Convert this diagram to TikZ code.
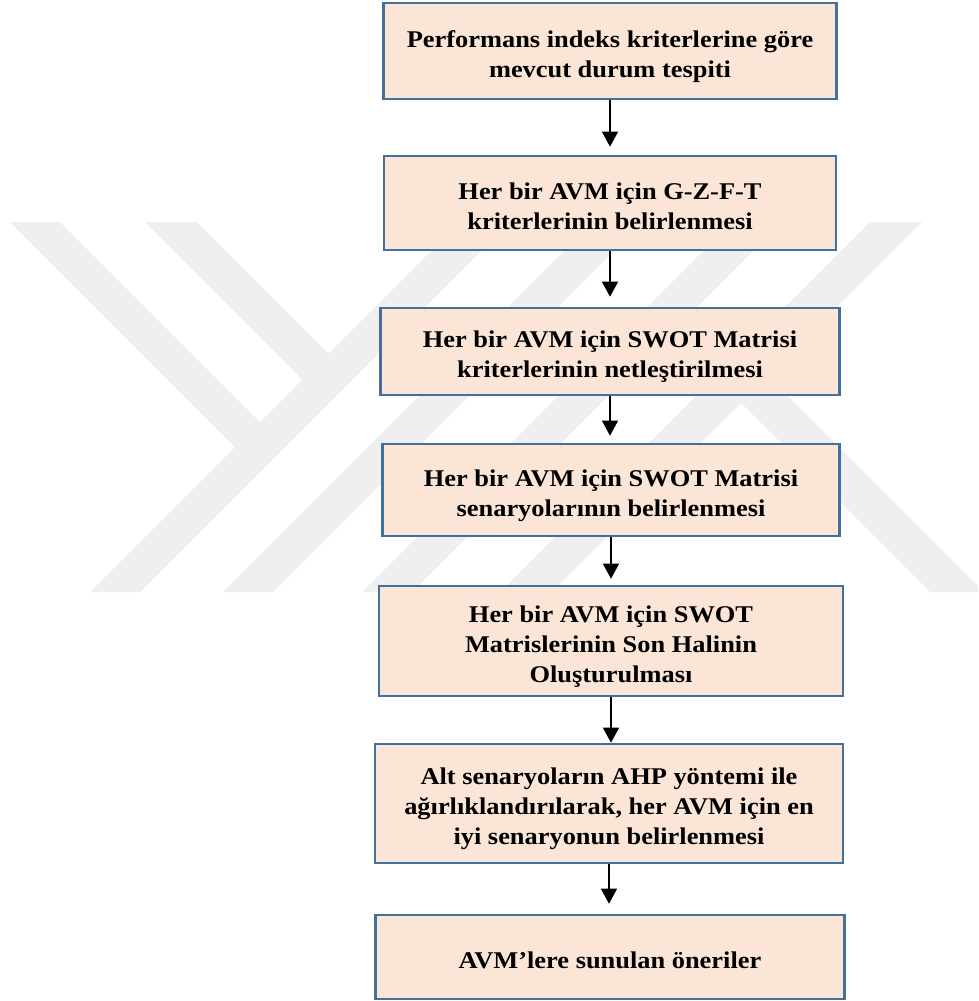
\documentclass[tikz,border=0pt]{standalone}
\usepackage{fontspec}
\setmainfont{Liberation Serif}[FakeStretch=1.1]
\usetikzlibrary{arrows.meta}
\definecolor{boxfill}{RGB}{251,229,214}
\definecolor{boxline}{RGB}{65,113,156}
\definecolor{wmgray}{RGB}{239,239,239}
% centred lines of a step, set a little below the box centre
\newcommand{\steplines}[2][-5pt]{\raisebox{#1}[\height][\depth]{\begin{tabular}{@{}c@{}}#2\end{tabular}}}
\begin{document}
\begin{tikzpicture}[x=1pt,y=-1pt,
  stepbox/.style={draw=boxline, line width=2.6pt, fill=boxfill,
    font=\fontsize{24}{30}\selectfont\bfseries, inner sep=0pt},
  flow/.style={line width=1.3pt, -{Triangle[width=16pt,length=15pt]}},
  stripe/.style={fill=wmgray, draw=none}]
\useasboundingbox (0,0) rectangle (978,1001);

% faint background emblem made of diagonal bands
\begin{scope}
  \clip (0,222) rectangle (978,592);
  \fill[stripe] (10,222) -- (60,222) -- (272.5,434.5) -- (247.5,459.5) -- cycle;
  \fill[stripe] (145,222) -- (197,222) -- (341,366) -- (315,392) -- cycle;
  \fill[stripe] (460,222) -- (510,222) -- (140,592) -- (90,592) -- cycle;
  \fill[stripe] (593,222) -- (643,222) -- (273,592) -- (223,592) -- cycle;
  \fill[stripe] (732,222) -- (782,222) -- (412,592) -- (362,592) -- cycle;
  \fill[stripe] (870,222) -- (922,222) -- (552,592) -- (500,592) -- cycle;
  \fill[stripe] (755,363) -- (984,592) -- (930,592) -- (728,390) -- cycle;
\end{scope}

% process steps
\node[stepbox, minimum width=453pt, minimum height=96pt] (b1) at (610,51)
  {\steplines{Performans indeks kriterlerine göre\\mevcut durum tespiti}};
\node[stepbox, minimum width=452pt, minimum height=94pt] (b2) at (610,203)
  {\steplines{Her bir AVM için G-Z-F-T\\kriterlerinin belirlenmesi}};
\node[stepbox, minimum width=459pt, minimum height=87pt] (b3) at (610,351.5)
  {\steplines{Her bir AVM için SWOT Matrisi\\kriterlerinin netleştirilmesi}};
\node[stepbox, minimum width=457pt, minimum height=92pt] (b4) at (611,490)
  {\steplines{Her bir AVM için SWOT Matrisi\\senaryolarının belirlenmesi}};
\node[stepbox, minimum width=464pt, minimum height=110pt] (b5) at (611,641)
  {\steplines{Her bir AVM için SWOT\\Matrislerinin Son Halinin\\Oluşturulması}};
\node[stepbox, minimum width=468pt, minimum height=119pt] (b6) at (609,803.5)
  {\steplines{Alt senaryoların AHP yöntemi ile\\ağırlıklandırılarak, her AVM için en\\iyi senaryonun belirlenmesi}};
\node[stepbox, minimum width=469pt, minimum height=84pt] (b7) at (610,957)
  {\steplines{AVM’lere sunulan öneriler}};

% connectors
\draw[flow, shorten >=8pt] (b1.south) -- (b1.south |- b2.north);
\draw[flow, shorten >=10pt] (b2.south) -- (b2.south |- b3.north);
\draw[flow, shorten >=7pt] (b3.south) -- (b3.south |- b4.north);
\draw[flow, shorten >=6pt] (b4.south) -- (b4.south |- b5.north);
\draw[flow] (b5.south) -- (b5.south |- b6.north);
\draw[flow, shorten >=10pt] (b6.south) -- (b6.south |- b7.north);
\end{tikzpicture}
\end{document}
